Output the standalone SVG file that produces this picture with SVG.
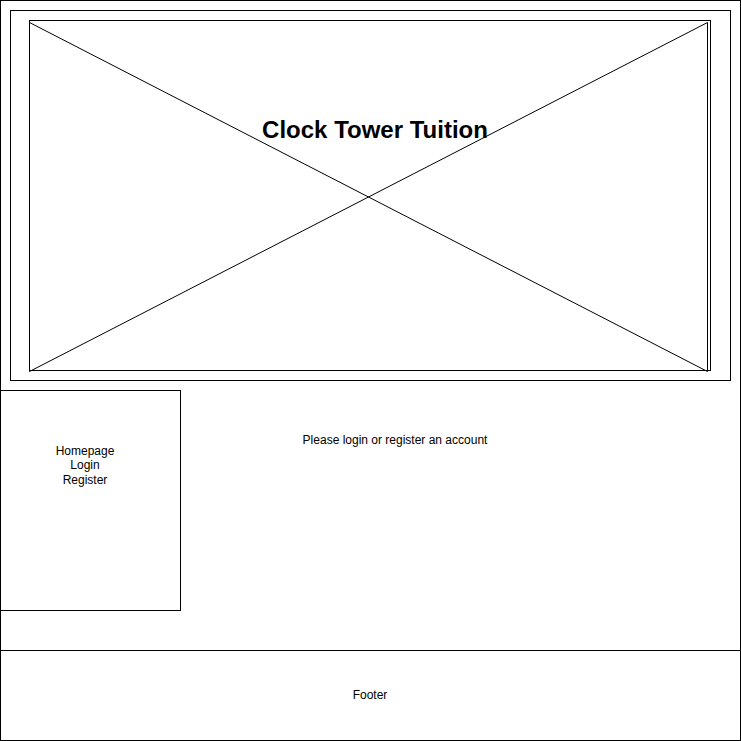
<svg xmlns="http://www.w3.org/2000/svg" width="741" height="741" viewBox="0 0 741 741">
<style>
.b{fill:#fff;stroke:#000;stroke-width:1}
.l{fill:none;stroke:#000;stroke-width:1}
.t{font-family:"Liberation Sans",Arial,sans-serif;font-size:12px;fill:#000;text-anchor:middle}
.h{font-family:"Liberation Sans",Arial,sans-serif;font-size:24px;font-weight:bold;fill:#000;text-anchor:middle}
</style>
<rect x="0" y="0" width="741" height="741" fill="#fff"/>
<g id="page"><rect class="b" x="0.5" y="0.5" width="740" height="740"/></g>
<g id="header">
<rect class="b" x="10.5" y="10.5" width="720" height="370"/>
<rect class="b" x="29.5" y="20.5" width="681" height="350"/>
</g>
<g id="image">
<line class="l" x1="29.5" y1="22.5" x2="29.5" y2="371.5"/>
<line class="l" x1="707.5" y1="22.5" x2="707.5" y2="371.5" stroke="#666"/>
<line class="l" x1="29.5" y1="22.5" x2="707.5" y2="371.5"/>
<line class="l" x1="29.5" y1="371.5" x2="707.5" y2="22.5"/>
</g>
<g id="title"><text class="h" x="375" y="138">Clock Tower Tuition</text></g>
<g id="nav">
<rect class="b" x="0.5" y="390.5" width="180" height="220"/>
<text class="t" x="85" y="455">Homepage</text>
<text class="t" x="85" y="469">Login</text>
<text class="t" x="85" y="484">Register</text>
</g>
<g id="content"><text class="t" x="395" y="444">Please login or register an account</text></g>
<g id="footer">
<rect class="b" x="0.5" y="650.5" width="740" height="90"/>
<text class="t" x="370" y="699">Footer</text>
</g>
<g id="connectors"/>
</svg>
